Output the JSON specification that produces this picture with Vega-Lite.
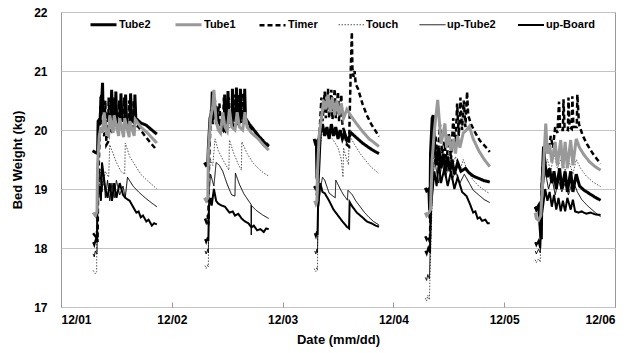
{
"$schema": "https://vega.github.io/schema/vega-lite/v6.json",
"width": 554, "height": 295,
"autosize": {"type": "none"},
"padding": {"left": 61, "top": 12, "right": 29, "bottom": 46},
"background": "white",
"config": {"view": {"stroke": "#999999", "strokeWidth": 1}, "font": "Liberation Sans"},
"data": {"values": [
{"s":"Touch","k":1,"d":1.29,"w":17.62},{"s":"Touch","k":1,"d":1.31,"w":17.56},{"s":"Touch","k":1,"d":1.322,"w":17.6},{"s":"Touch","k":1,"d":1.325,"w":19.15},{"s":"Touch","k":1,"d":1.34,"w":18.95},{"s":"Touch","k":1,"d":1.355,"w":19.35},{"s":"Touch","k":1,"d":1.38,"w":19.05},{"s":"Touch","k":1,"d":1.4,"w":19.3},{"s":"Touch","k":1,"d":1.43,"w":19.2},{"s":"Touch","k":1,"d":1.44,"w":19.75},{"s":"Touch","k":1,"d":1.47,"w":19.6},{"s":"Touch","k":1,"d":1.5,"w":19.45},{"s":"Touch","k":1,"d":1.54,"w":19.3},{"s":"Touch","k":1,"d":1.575,"w":19.25},{"s":"Touch","k":1,"d":1.58,"w":19.78},{"s":"Touch","k":1,"d":1.62,"w":19.55},{"s":"Touch","k":1,"d":1.67,"w":19.4},{"s":"Touch","k":1,"d":1.72,"w":19.25},{"s":"Touch","k":1,"d":1.78,"w":19.14},{"s":"Touch","k":1,"d":1.83,"w":19.06},{"s":"Touch","k":1,"d":1.865,"w":19.0},
{"s":"Touch","k":2,"d":2.3,"w":17.7},{"s":"Touch","k":2,"d":2.31,"w":17.65},{"s":"Touch","k":2,"d":2.325,"w":17.72},{"s":"Touch","k":2,"d":2.33,"w":17.68},{"s":"Touch","k":2,"d":2.335,"w":19.2},{"s":"Touch","k":2,"d":2.35,"w":19.5},{"s":"Touch","k":2,"d":2.37,"w":19.4},{"s":"Touch","k":2,"d":2.39,"w":19.85},{"s":"Touch","k":2,"d":2.42,"w":19.65},{"s":"Touch","k":2,"d":2.46,"w":19.5},{"s":"Touch","k":2,"d":2.515,"w":19.32},{"s":"Touch","k":2,"d":2.52,"w":19.83},{"s":"Touch","k":2,"d":2.56,"w":19.6},{"s":"Touch","k":2,"d":2.6,"w":19.42},{"s":"Touch","k":2,"d":2.628,"w":19.32},{"s":"Touch","k":2,"d":2.632,"w":19.8},{"s":"Touch","k":2,"d":2.68,"w":19.6},{"s":"Touch","k":2,"d":2.73,"w":19.45},{"s":"Touch","k":2,"d":2.78,"w":19.35},{"s":"Touch","k":2,"d":2.83,"w":19.27},{"s":"Touch","k":2,"d":2.875,"w":19.22},
{"s":"Touch","k":3,"d":3.285,"w":17.65},{"s":"Touch","k":3,"d":3.3,"w":17.6},{"s":"Touch","k":3,"d":3.31,"w":17.68},{"s":"Touch","k":3,"d":3.315,"w":17.62},{"s":"Touch","k":3,"d":3.32,"w":19.4},{"s":"Touch","k":3,"d":3.34,"w":19.7},{"s":"Touch","k":3,"d":3.36,"w":20.0},{"s":"Touch","k":3,"d":3.4,"w":19.95},{"s":"Touch","k":3,"d":3.45,"w":19.85},{"s":"Touch","k":3,"d":3.5,"w":19.7},{"s":"Touch","k":3,"d":3.53,"w":19.5},{"s":"Touch","k":3,"d":3.545,"w":19.2},{"s":"Touch","k":3,"d":3.55,"w":19.7},{"s":"Touch","k":3,"d":3.57,"w":19.55},{"s":"Touch","k":3,"d":3.595,"w":19.41},{"s":"Touch","k":3,"d":3.6,"w":19.92},{"s":"Touch","k":3,"d":3.65,"w":19.75},{"s":"Touch","k":3,"d":3.7,"w":19.6},{"s":"Touch","k":3,"d":3.75,"w":19.48},{"s":"Touch","k":3,"d":3.8,"w":19.37},{"s":"Touch","k":3,"d":3.87,"w":19.26},
{"s":"Touch","k":4,"d":4.288,"w":17.15},{"s":"Touch","k":4,"d":4.3,"w":17.1},{"s":"Touch","k":4,"d":4.31,"w":17.2},{"s":"Touch","k":4,"d":4.325,"w":17.12},{"s":"Touch","k":4,"d":4.33,"w":17.5},{"s":"Touch","k":4,"d":4.345,"w":18.5},{"s":"Touch","k":4,"d":4.36,"w":19.3},{"s":"Touch","k":4,"d":4.38,"w":19.6},{"s":"Touch","k":4,"d":4.4,"w":19.4},{"s":"Touch","k":4,"d":4.43,"w":19.7},{"s":"Touch","k":4,"d":4.46,"w":19.4},{"s":"Touch","k":4,"d":4.5,"w":19.6},{"s":"Touch","k":4,"d":4.53,"w":19.35},{"s":"Touch","k":4,"d":4.56,"w":19.55},{"s":"Touch","k":4,"d":4.6,"w":19.3},{"s":"Touch","k":4,"d":4.63,"w":19.5},{"s":"Touch","k":4,"d":4.67,"w":19.3},{"s":"Touch","k":4,"d":4.72,"w":19.15},{"s":"Touch","k":4,"d":4.77,"w":19.05},{"s":"Touch","k":4,"d":4.82,"w":18.98},{"s":"Touch","k":4,"d":4.87,"w":18.92},
{"s":"Touch","k":5,"d":5.28,"w":17.8},{"s":"Touch","k":5,"d":5.29,"w":17.75},{"s":"Touch","k":5,"d":5.31,"w":17.82},{"s":"Touch","k":5,"d":5.325,"w":17.76},{"s":"Touch","k":5,"d":5.34,"w":18.9},{"s":"Touch","k":5,"d":5.36,"w":19.3},{"s":"Touch","k":5,"d":5.39,"w":19.5},{"s":"Touch","k":5,"d":5.42,"w":19.3},{"s":"Touch","k":5,"d":5.45,"w":19.6},{"s":"Touch","k":5,"d":5.48,"w":19.35},{"s":"Touch","k":5,"d":5.52,"w":19.55},{"s":"Touch","k":5,"d":5.55,"w":19.3},{"s":"Touch","k":5,"d":5.58,"w":19.5},{"s":"Touch","k":5,"d":5.62,"w":19.25},{"s":"Touch","k":5,"d":5.65,"w":19.5},{"s":"Touch","k":5,"d":5.69,"w":19.35},{"s":"Touch","k":5,"d":5.74,"w":19.22},{"s":"Touch","k":5,"d":5.8,"w":19.12},{"s":"Touch","k":5,"d":5.87,"w":19.04},

{"s":"up-Tube2","k":1,"d":1.29,"w":17.9},{"s":"up-Tube2","k":1,"d":1.3,"w":17.85},{"s":"up-Tube2","k":1,"d":1.31,"w":17.95},{"s":"up-Tube2","k":1,"d":1.325,"w":17.9},{"s":"up-Tube2","k":1,"d":1.33,"w":18.8},{"s":"up-Tube2","k":1,"d":1.35,"w":19.3},{"s":"up-Tube2","k":1,"d":1.37,"w":18.95},{"s":"up-Tube2","k":1,"d":1.385,"w":19.25},{"s":"up-Tube2","k":1,"d":1.4,"w":18.85},{"s":"up-Tube2","k":1,"d":1.42,"w":19.15},{"s":"up-Tube2","k":1,"d":1.44,"w":18.8},{"s":"up-Tube2","k":1,"d":1.46,"w":19.1},{"s":"up-Tube2","k":1,"d":1.48,"w":18.85},{"s":"up-Tube2","k":1,"d":1.5,"w":19.15},{"s":"up-Tube2","k":1,"d":1.53,"w":18.9},{"s":"up-Tube2","k":1,"d":1.56,"w":19.05},{"s":"up-Tube2","k":1,"d":1.58,"w":18.85},{"s":"up-Tube2","k":1,"d":1.6,"w":19.2},{"s":"up-Tube2","k":1,"d":1.65,"w":19.05},{"s":"up-Tube2","k":1,"d":1.7,"w":18.95},{"s":"up-Tube2","k":1,"d":1.76,"w":18.85},{"s":"up-Tube2","k":1,"d":1.82,"w":18.76},{"s":"up-Tube2","k":1,"d":1.865,"w":18.7},
{"s":"up-Tube2","k":2,"d":2.3,"w":17.95},{"s":"up-Tube2","k":2,"d":2.31,"w":17.9},{"s":"up-Tube2","k":2,"d":2.325,"w":17.98},{"s":"up-Tube2","k":2,"d":2.33,"w":17.92},{"s":"up-Tube2","k":2,"d":2.335,"w":18.9},{"s":"up-Tube2","k":2,"d":2.35,"w":19.25},{"s":"up-Tube2","k":2,"d":2.38,"w":19.05},{"s":"up-Tube2","k":2,"d":2.4,"w":19.45},{"s":"up-Tube2","k":2,"d":2.43,"w":19.4},{"s":"up-Tube2","k":2,"d":2.46,"w":19.3},{"s":"up-Tube2","k":2,"d":2.5,"w":19.08},{"s":"up-Tube2","k":2,"d":2.54,"w":18.9},{"s":"up-Tube2","k":2,"d":2.57,"w":18.88},{"s":"up-Tube2","k":2,"d":2.574,"w":19.27},{"s":"up-Tube2","k":2,"d":2.61,"w":19.08},{"s":"up-Tube2","k":2,"d":2.65,"w":18.92},{"s":"up-Tube2","k":2,"d":2.7,"w":18.78},{"s":"up-Tube2","k":2,"d":2.715,"w":18.74},{"s":"up-Tube2","k":2,"d":2.717,"w":18.22},{"s":"up-Tube2","k":2,"d":2.719,"w":18.72},{"s":"up-Tube2","k":2,"d":2.76,"w":18.64},{"s":"up-Tube2","k":2,"d":2.82,"w":18.56},{"s":"up-Tube2","k":2,"d":2.875,"w":18.5},
{"s":"up-Tube2","k":3,"d":3.29,"w":17.95},{"s":"up-Tube2","k":3,"d":3.3,"w":17.9},{"s":"up-Tube2","k":3,"d":3.31,"w":17.98},{"s":"up-Tube2","k":3,"d":3.315,"w":17.92},{"s":"up-Tube2","k":3,"d":3.32,"w":18.6},{"s":"up-Tube2","k":3,"d":3.34,"w":19.0},{"s":"up-Tube2","k":3,"d":3.36,"w":19.2},{"s":"up-Tube2","k":3,"d":3.38,"w":19.15},{"s":"up-Tube2","k":3,"d":3.42,"w":18.93},{"s":"up-Tube2","k":3,"d":3.475,"w":18.85},{"s":"up-Tube2","k":3,"d":3.48,"w":19.15},{"s":"up-Tube2","k":3,"d":3.52,"w":19.0},{"s":"up-Tube2","k":3,"d":3.55,"w":18.9},{"s":"up-Tube2","k":3,"d":3.585,"w":18.81},{"s":"up-Tube2","k":3,"d":3.59,"w":18.98},{"s":"up-Tube2","k":3,"d":3.63,"w":18.9},{"s":"up-Tube2","k":3,"d":3.66,"w":18.8},{"s":"up-Tube2","k":3,"d":3.7,"w":18.7},{"s":"up-Tube2","k":3,"d":3.74,"w":18.6},{"s":"up-Tube2","k":3,"d":3.78,"w":18.52},{"s":"up-Tube2","k":3,"d":3.82,"w":18.45},{"s":"up-Tube2","k":3,"d":3.87,"w":18.39},
{"s":"up-Tube2","k":4,"d":4.288,"w":17.5},{"s":"up-Tube2","k":4,"d":4.3,"w":17.45},{"s":"up-Tube2","k":4,"d":4.31,"w":17.55},{"s":"up-Tube2","k":4,"d":4.325,"w":17.48},{"s":"up-Tube2","k":4,"d":4.335,"w":18.2},{"s":"up-Tube2","k":4,"d":4.35,"w":18.9},{"s":"up-Tube2","k":4,"d":4.37,"w":19.5},{"s":"up-Tube2","k":4,"d":4.39,"w":19.3},{"s":"up-Tube2","k":4,"d":4.41,"w":19.1},{"s":"up-Tube2","k":4,"d":4.44,"w":19.45},{"s":"up-Tube2","k":4,"d":4.47,"w":19.2},{"s":"up-Tube2","k":4,"d":4.5,"w":19.4},{"s":"up-Tube2","k":4,"d":4.53,"w":19.15},{"s":"up-Tube2","k":4,"d":4.56,"w":19.3},{"s":"up-Tube2","k":4,"d":4.6,"w":19.1},{"s":"up-Tube2","k":4,"d":4.64,"w":19.25},{"s":"up-Tube2","k":4,"d":4.685,"w":19.1},{"s":"up-Tube2","k":4,"d":4.72,"w":18.98},{"s":"up-Tube2","k":4,"d":4.77,"w":18.9},{"s":"up-Tube2","k":4,"d":4.82,"w":18.82},{"s":"up-Tube2","k":4,"d":4.87,"w":18.77},
{"s":"up-Tube2","k":5,"d":5.28,"w":17.95},{"s":"up-Tube2","k":5,"d":5.29,"w":17.9},{"s":"up-Tube2","k":5,"d":5.31,"w":17.98},{"s":"up-Tube2","k":5,"d":5.325,"w":17.92},{"s":"up-Tube2","k":5,"d":5.335,"w":18.6},{"s":"up-Tube2","k":5,"d":5.35,"w":19.0},{"s":"up-Tube2","k":5,"d":5.37,"w":19.3},{"s":"up-Tube2","k":5,"d":5.4,"w":19.0},{"s":"up-Tube2","k":5,"d":5.43,"w":19.2},{"s":"up-Tube2","k":5,"d":5.46,"w":18.9},{"s":"up-Tube2","k":5,"d":5.49,"w":19.15},{"s":"up-Tube2","k":5,"d":5.52,"w":18.95},{"s":"up-Tube2","k":5,"d":5.55,"w":19.1},{"s":"up-Tube2","k":5,"d":5.58,"w":18.9},{"s":"up-Tube2","k":5,"d":5.62,"w":19.15},{"s":"up-Tube2","k":5,"d":5.66,"w":18.95},{"s":"up-Tube2","k":5,"d":5.7,"w":18.82},{"s":"up-Tube2","k":5,"d":5.75,"w":18.72},{"s":"up-Tube2","k":5,"d":5.81,"w":18.62},{"s":"up-Tube2","k":5,"d":5.87,"w":18.53},

{"s":"up-Board","k":1,"d":1.29,"w":18.1},{"s":"up-Board","k":1,"d":1.3,"w":18.05},{"s":"up-Board","k":1,"d":1.315,"w":18.15},{"s":"up-Board","k":1,"d":1.325,"w":18.1},{"s":"up-Board","k":1,"d":1.33,"w":18.95},{"s":"up-Board","k":1,"d":1.345,"w":19.05},{"s":"up-Board","k":1,"d":1.36,"w":18.8},{"s":"up-Board","k":1,"d":1.37,"w":19.45},{"s":"up-Board","k":1,"d":1.38,"w":19.3},{"s":"up-Board","k":1,"d":1.4,"w":19.0},{"s":"up-Board","k":1,"d":1.42,"w":18.85},{"s":"up-Board","k":1,"d":1.44,"w":19.1},{"s":"up-Board","k":1,"d":1.46,"w":18.8},{"s":"up-Board","k":1,"d":1.48,"w":19.1},{"s":"up-Board","k":1,"d":1.5,"w":18.85},{"s":"up-Board","k":1,"d":1.53,"w":19.1},{"s":"up-Board","k":1,"d":1.56,"w":18.9},{"s":"up-Board","k":1,"d":1.58,"w":18.85},{"s":"up-Board","k":1,"d":1.62,"w":18.8},{"s":"up-Board","k":1,"d":1.65,"w":18.7},{"s":"up-Board","k":1,"d":1.68,"w":18.6},{"s":"up-Board","k":1,"d":1.7,"w":18.62},{"s":"up-Board","k":1,"d":1.72,"w":18.52},{"s":"up-Board","k":1,"d":1.74,"w":18.55},{"s":"up-Board","k":1,"d":1.77,"w":18.45},{"s":"up-Board","k":1,"d":1.79,"w":18.48},{"s":"up-Board","k":1,"d":1.82,"w":18.38},{"s":"up-Board","k":1,"d":1.84,"w":18.42},{"s":"up-Board","k":1,"d":1.865,"w":18.4},
{"s":"up-Board","k":2,"d":2.3,"w":18.15},{"s":"up-Board","k":2,"d":2.31,"w":18.1},{"s":"up-Board","k":2,"d":2.325,"w":18.18},{"s":"up-Board","k":2,"d":2.33,"w":18.12},{"s":"up-Board","k":2,"d":2.335,"w":18.7},{"s":"up-Board","k":2,"d":2.35,"w":18.85},{"s":"up-Board","k":2,"d":2.36,"w":18.72},{"s":"up-Board","k":2,"d":2.38,"w":19.0},{"s":"up-Board","k":2,"d":2.4,"w":18.8},{"s":"up-Board","k":2,"d":2.42,"w":18.75},{"s":"up-Board","k":2,"d":2.45,"w":18.72},{"s":"up-Board","k":2,"d":2.48,"w":18.7},{"s":"up-Board","k":2,"d":2.5,"w":18.65},{"s":"up-Board","k":2,"d":2.52,"w":18.6},{"s":"up-Board","k":2,"d":2.55,"w":18.62},{"s":"up-Board","k":2,"d":2.57,"w":18.55},{"s":"up-Board","k":2,"d":2.6,"w":18.58},{"s":"up-Board","k":2,"d":2.63,"w":18.5},{"s":"up-Board","k":2,"d":2.66,"w":18.45},{"s":"up-Board","k":2,"d":2.69,"w":18.42},{"s":"up-Board","k":2,"d":2.72,"w":18.35},{"s":"up-Board","k":2,"d":2.74,"w":18.38},{"s":"up-Board","k":2,"d":2.77,"w":18.3},{"s":"up-Board","k":2,"d":2.8,"w":18.32},{"s":"up-Board","k":2,"d":2.83,"w":18.27},{"s":"up-Board","k":2,"d":2.85,"w":18.33},{"s":"up-Board","k":2,"d":2.875,"w":18.32},
{"s":"up-Board","k":3,"d":3.29,"w":18.25},{"s":"up-Board","k":3,"d":3.3,"w":18.2},{"s":"up-Board","k":3,"d":3.31,"w":18.28},{"s":"up-Board","k":3,"d":3.315,"w":18.22},{"s":"up-Board","k":3,"d":3.32,"w":18.7},{"s":"up-Board","k":3,"d":3.34,"w":19.1},{"s":"up-Board","k":3,"d":3.36,"w":18.95},{"s":"up-Board","k":3,"d":3.38,"w":18.93},{"s":"up-Board","k":3,"d":3.42,"w":18.8},{"s":"up-Board","k":3,"d":3.46,"w":18.65},{"s":"up-Board","k":3,"d":3.5,"w":18.55},{"s":"up-Board","k":3,"d":3.54,"w":18.45},{"s":"up-Board","k":3,"d":3.58,"w":18.36},{"s":"up-Board","k":3,"d":3.6,"w":18.33},{"s":"up-Board","k":3,"d":3.605,"w":18.78},{"s":"up-Board","k":3,"d":3.63,"w":18.7},{"s":"up-Board","k":3,"d":3.67,"w":18.6},{"s":"up-Board","k":3,"d":3.72,"w":18.52},{"s":"up-Board","k":3,"d":3.76,"w":18.45},{"s":"up-Board","k":3,"d":3.8,"w":18.42},{"s":"up-Board","k":3,"d":3.84,"w":18.38},{"s":"up-Board","k":3,"d":3.87,"w":18.36},
{"s":"up-Board","k":4,"d":4.288,"w":17.95},{"s":"up-Board","k":4,"d":4.3,"w":17.9},{"s":"up-Board","k":4,"d":4.315,"w":18.0},{"s":"up-Board","k":4,"d":4.33,"w":17.92},{"s":"up-Board","k":4,"d":4.335,"w":18.6},{"s":"up-Board","k":4,"d":4.35,"w":18.9},{"s":"up-Board","k":4,"d":4.37,"w":19.3},{"s":"up-Board","k":4,"d":4.39,"w":19.05},{"s":"up-Board","k":4,"d":4.41,"w":19.45},{"s":"up-Board","k":4,"d":4.43,"w":19.1},{"s":"up-Board","k":4,"d":4.46,"w":19.35},{"s":"up-Board","k":4,"d":4.49,"w":19.05},{"s":"up-Board","k":4,"d":4.52,"w":19.3},{"s":"up-Board","k":4,"d":4.55,"w":19.0},{"s":"up-Board","k":4,"d":4.58,"w":19.2},{"s":"up-Board","k":4,"d":4.62,"w":18.95},{"s":"up-Board","k":4,"d":4.66,"w":18.88},{"s":"up-Board","k":4,"d":4.69,"w":18.75},{"s":"up-Board","k":4,"d":4.72,"w":18.6},{"s":"up-Board","k":4,"d":4.74,"w":18.62},{"s":"up-Board","k":4,"d":4.76,"w":18.5},{"s":"up-Board","k":4,"d":4.78,"w":18.52},{"s":"up-Board","k":4,"d":4.8,"w":18.46},{"s":"up-Board","k":4,"d":4.83,"w":18.48},{"s":"up-Board","k":4,"d":4.85,"w":18.42},{"s":"up-Board","k":4,"d":4.87,"w":18.42},
{"s":"up-Board","k":5,"d":5.28,"w":18.1},{"s":"up-Board","k":5,"d":5.29,"w":18.05},{"s":"up-Board","k":5,"d":5.31,"w":18.12},{"s":"up-Board","k":5,"d":5.325,"w":18.0},{"s":"up-Board","k":5,"d":5.335,"w":18.5},{"s":"up-Board","k":5,"d":5.35,"w":18.7},{"s":"up-Board","k":5,"d":5.37,"w":19.0},{"s":"up-Board","k":5,"d":5.39,"w":18.8},{"s":"up-Board","k":5,"d":5.41,"w":18.95},{"s":"up-Board","k":5,"d":5.43,"w":18.7},{"s":"up-Board","k":5,"d":5.45,"w":18.9},{"s":"up-Board","k":5,"d":5.47,"w":18.65},{"s":"up-Board","k":5,"d":5.49,"w":18.85},{"s":"up-Board","k":5,"d":5.51,"w":18.62},{"s":"up-Board","k":5,"d":5.53,"w":18.8},{"s":"up-Board","k":5,"d":5.55,"w":18.62},{"s":"up-Board","k":5,"d":5.57,"w":18.85},{"s":"up-Board","k":5,"d":5.6,"w":18.65},{"s":"up-Board","k":5,"d":5.62,"w":18.82},{"s":"up-Board","k":5,"d":5.64,"w":18.62},{"s":"up-Board","k":5,"d":5.67,"w":18.6},{"s":"up-Board","k":5,"d":5.7,"w":18.62},{"s":"up-Board","k":5,"d":5.74,"w":18.58},{"s":"up-Board","k":5,"d":5.78,"w":18.6},{"s":"up-Board","k":5,"d":5.82,"w":18.57},{"s":"up-Board","k":5,"d":5.87,"w":18.56},

{"s":"Timer","k":1,"d":1.29,"w":18.25},{"s":"Timer","k":1,"d":1.31,"w":18.2},{"s":"Timer","k":1,"d":1.325,"w":18.28},{"s":"Timer","k":1,"d":1.33,"w":18.1},{"s":"Timer","k":1,"d":1.335,"w":19.0},{"s":"Timer","k":1,"d":1.345,"w":19.7},{"s":"Timer","k":1,"d":1.355,"w":20.4},{"s":"Timer","k":1,"d":1.365,"w":20.0},{"s":"Timer","k":1,"d":1.39,"w":19.9},{"s":"Timer","k":1,"d":1.4,"w":20.5},{"s":"Timer","k":1,"d":1.41,"w":19.75},{"s":"Timer","k":1,"d":1.425,"w":19.8},{"s":"Timer","k":1,"d":1.43,"w":20.55},{"s":"Timer","k":1,"d":1.44,"w":20.0},{"s":"Timer","k":1,"d":1.47,"w":19.95},{"s":"Timer","k":1,"d":1.475,"w":20.55},{"s":"Timer","k":1,"d":1.485,"w":20.05},{"s":"Timer","k":1,"d":1.52,"w":20.0},{"s":"Timer","k":1,"d":1.525,"w":20.5},{"s":"Timer","k":1,"d":1.535,"w":20.05},{"s":"Timer","k":1,"d":1.565,"w":20.0},{"s":"Timer","k":1,"d":1.57,"w":20.55},{"s":"Timer","k":1,"d":1.58,"w":20.05},{"s":"Timer","k":1,"d":1.61,"w":19.98},{"s":"Timer","k":1,"d":1.615,"w":20.5},{"s":"Timer","k":1,"d":1.625,"w":20.05},{"s":"Timer","k":1,"d":1.65,"w":20.0},{"s":"Timer","k":1,"d":1.655,"w":20.5},{"s":"Timer","k":1,"d":1.665,"w":20.1},{"s":"Timer","k":1,"d":1.7,"w":20.05},{"s":"Timer","k":1,"d":1.75,"w":19.92},{"s":"Timer","k":1,"d":1.8,"w":19.8},{"s":"Timer","k":1,"d":1.865,"w":19.66},
{"s":"Timer","k":2,"d":2.3,"w":18.5},{"s":"Timer","k":2,"d":2.31,"w":18.45},{"s":"Timer","k":2,"d":2.325,"w":18.55},{"s":"Timer","k":2,"d":2.33,"w":18.4},{"s":"Timer","k":2,"d":2.335,"w":19.4},{"s":"Timer","k":2,"d":2.345,"w":19.9},{"s":"Timer","k":2,"d":2.355,"w":20.35},{"s":"Timer","k":2,"d":2.37,"w":20.1},{"s":"Timer","k":2,"d":2.39,"w":20.5},{"s":"Timer","k":2,"d":2.4,"w":20.1},{"s":"Timer","k":2,"d":2.43,"w":20.45},{"s":"Timer","k":2,"d":2.44,"w":20.05},{"s":"Timer","k":2,"d":2.46,"w":20.0},{"s":"Timer","k":2,"d":2.47,"w":20.55},{"s":"Timer","k":2,"d":2.48,"w":20.05},{"s":"Timer","k":2,"d":2.51,"w":20.05},{"s":"Timer","k":2,"d":2.515,"w":20.55},{"s":"Timer","k":2,"d":2.525,"w":20.1},{"s":"Timer","k":2,"d":2.555,"w":20.05},{"s":"Timer","k":2,"d":2.56,"w":20.6},{"s":"Timer","k":2,"d":2.57,"w":20.1},{"s":"Timer","k":2,"d":2.595,"w":20.1},{"s":"Timer","k":2,"d":2.6,"w":20.6},{"s":"Timer","k":2,"d":2.61,"w":20.15},{"s":"Timer","k":2,"d":2.64,"w":20.1},{"s":"Timer","k":2,"d":2.645,"w":20.62},{"s":"Timer","k":2,"d":2.655,"w":20.15},{"s":"Timer","k":2,"d":2.7,"w":20.05},{"s":"Timer","k":2,"d":2.76,"w":19.95},{"s":"Timer","k":2,"d":2.82,"w":19.83},{"s":"Timer","k":2,"d":2.875,"w":19.74},
{"s":"Timer","k":3,"d":3.285,"w":19.05},{"s":"Timer","k":3,"d":3.3,"w":19.0},{"s":"Timer","k":3,"d":3.31,"w":18.9},{"s":"Timer","k":3,"d":3.32,"w":19.7},{"s":"Timer","k":3,"d":3.335,"w":20.0},{"s":"Timer","k":3,"d":3.35,"w":20.55},{"s":"Timer","k":3,"d":3.36,"w":20.15},{"s":"Timer","k":3,"d":3.38,"w":20.65},{"s":"Timer","k":3,"d":3.39,"w":20.2},{"s":"Timer","k":3,"d":3.41,"w":20.7},{"s":"Timer","k":3,"d":3.42,"w":20.2},{"s":"Timer","k":3,"d":3.44,"w":20.68},{"s":"Timer","k":3,"d":3.45,"w":20.18},{"s":"Timer","k":3,"d":3.47,"w":20.7},{"s":"Timer","k":3,"d":3.48,"w":20.2},{"s":"Timer","k":3,"d":3.5,"w":20.65},{"s":"Timer","k":3,"d":3.51,"w":20.15},{"s":"Timer","k":3,"d":3.53,"w":20.6},{"s":"Timer","k":3,"d":3.54,"w":20.1},{"s":"Timer","k":3,"d":3.58,"w":19.75},{"s":"Timer","k":3,"d":3.6,"w":19.72},{"s":"Timer","k":3,"d":3.605,"w":20.2},{"s":"Timer","k":3,"d":3.615,"w":21.0},{"s":"Timer","k":3,"d":3.625,"w":21.66},{"s":"Timer","k":3,"d":3.63,"w":21.05},{"s":"Timer","k":3,"d":3.64,"w":20.9},{"s":"Timer","k":3,"d":3.65,"w":21.0},{"s":"Timer","k":3,"d":3.66,"w":20.78},{"s":"Timer","k":3,"d":3.68,"w":20.7},{"s":"Timer","k":3,"d":3.72,"w":20.45},{"s":"Timer","k":3,"d":3.76,"w":20.25},{"s":"Timer","k":3,"d":3.8,"w":20.1},{"s":"Timer","k":3,"d":3.84,"w":19.98},{"s":"Timer","k":3,"d":3.87,"w":19.89},
{"s":"Timer","k":4,"d":4.288,"w":18.2},{"s":"Timer","k":4,"d":4.3,"w":18.15},{"s":"Timer","k":4,"d":4.315,"w":18.2},{"s":"Timer","k":4,"d":4.33,"w":18.1},{"s":"Timer","k":4,"d":4.34,"w":19.2},{"s":"Timer","k":4,"d":4.36,"w":19.6},{"s":"Timer","k":4,"d":4.38,"w":19.9},{"s":"Timer","k":4,"d":4.4,"w":19.5},{"s":"Timer","k":4,"d":4.42,"w":20.1},{"s":"Timer","k":4,"d":4.44,"w":19.6},{"s":"Timer","k":4,"d":4.46,"w":19.8},{"s":"Timer","k":4,"d":4.48,"w":19.45},{"s":"Timer","k":4,"d":4.5,"w":19.95},{"s":"Timer","k":4,"d":4.52,"w":19.5},{"s":"Timer","k":4,"d":4.54,"w":20.2},{"s":"Timer","k":4,"d":4.56,"w":19.7},{"s":"Timer","k":4,"d":4.575,"w":20.45},{"s":"Timer","k":4,"d":4.59,"w":19.9},{"s":"Timer","k":4,"d":4.605,"w":20.55},{"s":"Timer","k":4,"d":4.62,"w":20.0},{"s":"Timer","k":4,"d":4.635,"w":20.5},{"s":"Timer","k":4,"d":4.65,"w":20.05},{"s":"Timer","k":4,"d":4.665,"w":20.65},{"s":"Timer","k":4,"d":4.675,"w":20.25},{"s":"Timer","k":4,"d":4.7,"w":20.1},{"s":"Timer","k":4,"d":4.74,"w":19.95},{"s":"Timer","k":4,"d":4.78,"w":19.82},{"s":"Timer","k":4,"d":4.83,"w":19.72},{"s":"Timer","k":4,"d":4.87,"w":19.63},
{"s":"Timer","k":5,"d":5.28,"w":18.7},{"s":"Timer","k":5,"d":5.29,"w":18.65},{"s":"Timer","k":5,"d":5.31,"w":18.72},{"s":"Timer","k":5,"d":5.33,"w":18.6},{"s":"Timer","k":5,"d":5.345,"w":19.3},{"s":"Timer","k":5,"d":5.36,"w":19.6},{"s":"Timer","k":5,"d":5.38,"w":19.8},{"s":"Timer","k":5,"d":5.4,"w":19.6},{"s":"Timer","k":5,"d":5.42,"w":19.9},{"s":"Timer","k":5,"d":5.44,"w":19.7},{"s":"Timer","k":5,"d":5.46,"w":20.05},{"s":"Timer","k":5,"d":5.48,"w":19.95},{"s":"Timer","k":5,"d":5.495,"w":20.48},{"s":"Timer","k":5,"d":5.505,"w":20.0},{"s":"Timer","k":5,"d":5.53,"w":20.0},{"s":"Timer","k":5,"d":5.535,"w":20.52},{"s":"Timer","k":5,"d":5.545,"w":20.02},{"s":"Timer","k":5,"d":5.575,"w":20.0},{"s":"Timer","k":5,"d":5.58,"w":20.55},{"s":"Timer","k":5,"d":5.59,"w":20.05},{"s":"Timer","k":5,"d":5.61,"w":20.02},{"s":"Timer","k":5,"d":5.615,"w":20.57},{"s":"Timer","k":5,"d":5.625,"w":20.05},{"s":"Timer","k":5,"d":5.655,"w":20.05},{"s":"Timer","k":5,"d":5.66,"w":20.6},{"s":"Timer","k":5,"d":5.675,"w":20.1},{"s":"Timer","k":5,"d":5.71,"w":19.9},{"s":"Timer","k":5,"d":5.75,"w":19.75},{"s":"Timer","k":5,"d":5.8,"w":19.6},{"s":"Timer","k":5,"d":5.84,"w":19.5},{"s":"Timer","k":5,"d":5.87,"w":19.43},

{"s":"Tube2","k":1,"d":1.285,"w":19.65},{"s":"Tube2","k":1,"d":1.31,"w":19.62},{"s":"Tube2","k":1,"d":1.33,"w":19.6},{"s":"Tube2","k":1,"d":1.335,"w":20.15},{"s":"Tube2","k":1,"d":1.355,"w":20.2},{"s":"Tube2","k":1,"d":1.36,"w":20.55},{"s":"Tube2","k":1,"d":1.37,"w":20.6},{"s":"Tube2","k":1,"d":1.375,"w":20.8},{"s":"Tube2","k":1,"d":1.38,"w":20.3},{"s":"Tube2","k":1,"d":1.4,"w":20.2},{"s":"Tube2","k":1,"d":1.42,"w":20.25},{"s":"Tube2","k":1,"d":1.45,"w":20.1},{"s":"Tube2","k":1,"d":1.457,"w":20.68},{"s":"Tube2","k":1,"d":1.465,"w":20.2},{"s":"Tube2","k":1,"d":1.49,"w":20.12},{"s":"Tube2","k":1,"d":1.495,"w":20.65},{"s":"Tube2","k":1,"d":1.503,"w":20.15},{"s":"Tube2","k":1,"d":1.535,"w":20.1},{"s":"Tube2","k":1,"d":1.541,"w":20.62},{"s":"Tube2","k":1,"d":1.55,"w":20.2},{"s":"Tube2","k":1,"d":1.578,"w":20.12},{"s":"Tube2","k":1,"d":1.583,"w":20.6},{"s":"Tube2","k":1,"d":1.592,"w":20.15},{"s":"Tube2","k":1,"d":1.622,"w":20.1},{"s":"Tube2","k":1,"d":1.628,"w":20.62},{"s":"Tube2","k":1,"d":1.637,"w":20.18},{"s":"Tube2","k":1,"d":1.662,"w":20.12},{"s":"Tube2","k":1,"d":1.667,"w":20.6},{"s":"Tube2","k":1,"d":1.675,"w":20.2},{"s":"Tube2","k":1,"d":1.72,"w":20.12},{"s":"Tube2","k":1,"d":1.77,"w":20.08},{"s":"Tube2","k":1,"d":1.82,"w":20.0},{"s":"Tube2","k":1,"d":1.865,"w":19.93},
{"s":"Tube2","k":2,"d":2.295,"w":19.45},{"s":"Tube2","k":2,"d":2.31,"w":19.4},{"s":"Tube2","k":2,"d":2.325,"w":19.42},{"s":"Tube2","k":2,"d":2.33,"w":19.7},{"s":"Tube2","k":2,"d":2.345,"w":20.2},{"s":"Tube2","k":2,"d":2.36,"w":20.3},{"s":"Tube2","k":2,"d":2.365,"w":20.65},{"s":"Tube2","k":2,"d":2.375,"w":20.3},{"s":"Tube2","k":2,"d":2.39,"w":20.2},{"s":"Tube2","k":2,"d":2.4,"w":20.4},{"s":"Tube2","k":2,"d":2.42,"w":20.15},{"s":"Tube2","k":2,"d":2.45,"w":20.05},{"s":"Tube2","k":2,"d":2.475,"w":20.0},{"s":"Tube2","k":2,"d":2.477,"w":20.6},{"s":"Tube2","k":2,"d":2.485,"w":20.2},{"s":"Tube2","k":2,"d":2.505,"w":20.1},{"s":"Tube2","k":2,"d":2.507,"w":20.66},{"s":"Tube2","k":2,"d":2.515,"w":20.2},{"s":"Tube2","k":2,"d":2.545,"w":20.1},{"s":"Tube2","k":2,"d":2.547,"w":20.7},{"s":"Tube2","k":2,"d":2.555,"w":20.25},{"s":"Tube2","k":2,"d":2.58,"w":20.15},{"s":"Tube2","k":2,"d":2.583,"w":20.72},{"s":"Tube2","k":2,"d":2.59,"w":20.25},{"s":"Tube2","k":2,"d":2.615,"w":20.15},{"s":"Tube2","k":2,"d":2.619,"w":20.7},{"s":"Tube2","k":2,"d":2.627,"w":20.25},{"s":"Tube2","k":2,"d":2.655,"w":20.15},{"s":"Tube2","k":2,"d":2.658,"w":20.7},{"s":"Tube2","k":2,"d":2.665,"w":20.2},{"s":"Tube2","k":2,"d":2.7,"w":20.1},{"s":"Tube2","k":2,"d":2.75,"w":19.98},{"s":"Tube2","k":2,"d":2.8,"w":19.86},{"s":"Tube2","k":2,"d":2.84,"w":19.78},{"s":"Tube2","k":2,"d":2.875,"w":19.72},
{"s":"Tube2","k":3,"d":3.285,"w":19.85},{"s":"Tube2","k":3,"d":3.295,"w":19.78},{"s":"Tube2","k":3,"d":3.305,"w":19.8},{"s":"Tube2","k":3,"d":3.31,"w":19.2},{"s":"Tube2","k":3,"d":3.32,"w":19.1},{"s":"Tube2","k":3,"d":3.33,"w":19.5},{"s":"Tube2","k":3,"d":3.34,"w":19.95},{"s":"Tube2","k":3,"d":3.36,"w":20.1},{"s":"Tube2","k":3,"d":3.38,"w":19.9},{"s":"Tube2","k":3,"d":3.4,"w":20.05},{"s":"Tube2","k":3,"d":3.42,"w":19.85},{"s":"Tube2","k":3,"d":3.44,"w":20.1},{"s":"Tube2","k":3,"d":3.46,"w":19.9},{"s":"Tube2","k":3,"d":3.48,"w":20.05},{"s":"Tube2","k":3,"d":3.5,"w":19.85},{"s":"Tube2","k":3,"d":3.52,"w":20.0},{"s":"Tube2","k":3,"d":3.54,"w":19.85},{"s":"Tube2","k":3,"d":3.56,"w":19.95},{"s":"Tube2","k":3,"d":3.58,"w":19.82},{"s":"Tube2","k":3,"d":3.6,"w":19.88},{"s":"Tube2","k":3,"d":3.62,"w":19.95},{"s":"Tube2","k":3,"d":3.66,"w":19.88},{"s":"Tube2","k":3,"d":3.72,"w":19.78},{"s":"Tube2","k":3,"d":3.78,"w":19.7},{"s":"Tube2","k":3,"d":3.83,"w":19.64},{"s":"Tube2","k":3,"d":3.87,"w":19.6},
{"s":"Tube2","k":4,"d":4.288,"w":19.02},{"s":"Tube2","k":4,"d":4.3,"w":18.97},{"s":"Tube2","k":4,"d":4.32,"w":19.0},{"s":"Tube2","k":4,"d":4.33,"w":18.5},{"s":"Tube2","k":4,"d":4.335,"w":19.6},{"s":"Tube2","k":4,"d":4.35,"w":20.2},{"s":"Tube2","k":4,"d":4.36,"w":20.25},{"s":"Tube2","k":4,"d":4.37,"w":19.8},{"s":"Tube2","k":4,"d":4.39,"w":19.4},{"s":"Tube2","k":4,"d":4.41,"w":19.7},{"s":"Tube2","k":4,"d":4.43,"w":19.35},{"s":"Tube2","k":4,"d":4.45,"w":19.6},{"s":"Tube2","k":4,"d":4.47,"w":19.3},{"s":"Tube2","k":4,"d":4.49,"w":19.55},{"s":"Tube2","k":4,"d":4.51,"w":19.3},{"s":"Tube2","k":4,"d":4.53,"w":19.5},{"s":"Tube2","k":4,"d":4.55,"w":19.25},{"s":"Tube2","k":4,"d":4.58,"w":19.45},{"s":"Tube2","k":4,"d":4.61,"w":19.3},{"s":"Tube2","k":4,"d":4.65,"w":19.35},{"s":"Tube2","k":4,"d":4.68,"w":19.28},{"s":"Tube2","k":4,"d":4.72,"w":19.22},{"s":"Tube2","k":4,"d":4.77,"w":19.18},{"s":"Tube2","k":4,"d":4.82,"w":19.14},{"s":"Tube2","k":4,"d":4.87,"w":19.12},
{"s":"Tube2","k":5,"d":5.28,"w":18.7},{"s":"Tube2","k":5,"d":5.29,"w":18.66},{"s":"Tube2","k":5,"d":5.31,"w":18.72},{"s":"Tube2","k":5,"d":5.33,"w":18.2},{"s":"Tube2","k":5,"d":5.335,"w":18.15},{"s":"Tube2","k":5,"d":5.34,"w":19.0},{"s":"Tube2","k":5,"d":5.355,"w":19.72},{"s":"Tube2","k":5,"d":5.37,"w":19.4},{"s":"Tube2","k":5,"d":5.39,"w":19.2},{"s":"Tube2","k":5,"d":5.41,"w":19.35},{"s":"Tube2","k":5,"d":5.43,"w":19.1},{"s":"Tube2","k":5,"d":5.45,"w":19.3},{"s":"Tube2","k":5,"d":5.47,"w":19.0},{"s":"Tube2","k":5,"d":5.5,"w":19.35},{"s":"Tube2","k":5,"d":5.52,"w":19.0},{"s":"Tube2","k":5,"d":5.55,"w":19.3},{"s":"Tube2","k":5,"d":5.57,"w":18.95},{"s":"Tube2","k":5,"d":5.6,"w":19.3},{"s":"Tube2","k":5,"d":5.62,"w":18.95},{"s":"Tube2","k":5,"d":5.65,"w":19.25},{"s":"Tube2","k":5,"d":5.68,"w":19.05},{"s":"Tube2","k":5,"d":5.72,"w":18.98},{"s":"Tube2","k":5,"d":5.77,"w":18.92},{"s":"Tube2","k":5,"d":5.82,"w":18.86},{"s":"Tube2","k":5,"d":5.87,"w":18.81},

{"s":"Tube1","k":1,"d":1.29,"w":18.6},{"s":"Tube1","k":1,"d":1.31,"w":18.55},{"s":"Tube1","k":1,"d":1.325,"w":18.62},{"s":"Tube1","k":1,"d":1.33,"w":19.4},{"s":"Tube1","k":1,"d":1.345,"w":19.9},{"s":"Tube1","k":1,"d":1.36,"w":20.05},{"s":"Tube1","k":1,"d":1.375,"w":19.95},{"s":"Tube1","k":1,"d":1.39,"w":20.3},{"s":"Tube1","k":1,"d":1.41,"w":19.95},{"s":"Tube1","k":1,"d":1.43,"w":19.9},{"s":"Tube1","k":1,"d":1.44,"w":20.25},{"s":"Tube1","k":1,"d":1.47,"w":19.95},{"s":"Tube1","k":1,"d":1.48,"w":20.25},{"s":"Tube1","k":1,"d":1.52,"w":19.9},{"s":"Tube1","k":1,"d":1.53,"w":20.2},{"s":"Tube1","k":1,"d":1.565,"w":19.88},{"s":"Tube1","k":1,"d":1.575,"w":20.2},{"s":"Tube1","k":1,"d":1.615,"w":19.88},{"s":"Tube1","k":1,"d":1.62,"w":20.15},{"s":"Tube1","k":1,"d":1.66,"w":19.9},{"s":"Tube1","k":1,"d":1.67,"w":20.18},{"s":"Tube1","k":1,"d":1.72,"w":20.05},{"s":"Tube1","k":1,"d":1.78,"w":19.95},{"s":"Tube1","k":1,"d":1.83,"w":19.85},{"s":"Tube1","k":1,"d":1.865,"w":19.78},
{"s":"Tube1","k":2,"d":2.295,"w":18.85},{"s":"Tube1","k":2,"d":2.31,"w":18.8},{"s":"Tube1","k":2,"d":2.325,"w":18.85},{"s":"Tube1","k":2,"d":2.33,"w":19.6},{"s":"Tube1","k":2,"d":2.35,"w":20.2},{"s":"Tube1","k":2,"d":2.37,"w":20.4},{"s":"Tube1","k":2,"d":2.38,"w":20.68},{"s":"Tube1","k":2,"d":2.4,"w":20.15},{"s":"Tube1","k":2,"d":2.42,"w":20.0},{"s":"Tube1","k":2,"d":2.44,"w":19.95},{"s":"Tube1","k":2,"d":2.46,"w":20.3},{"s":"Tube1","k":2,"d":2.48,"w":20.05},{"s":"Tube1","k":2,"d":2.5,"w":19.98},{"s":"Tube1","k":2,"d":2.52,"w":20.35},{"s":"Tube1","k":2,"d":2.54,"w":20.05},{"s":"Tube1","k":2,"d":2.57,"w":20.0},{"s":"Tube1","k":2,"d":2.59,"w":20.3},{"s":"Tube1","k":2,"d":2.61,"w":20.05},{"s":"Tube1","k":2,"d":2.64,"w":20.0},{"s":"Tube1","k":2,"d":2.66,"w":20.3},{"s":"Tube1","k":2,"d":2.68,"w":20.05},{"s":"Tube1","k":2,"d":2.72,"w":19.95},{"s":"Tube1","k":2,"d":2.78,"w":19.85},{"s":"Tube1","k":2,"d":2.83,"w":19.74},{"s":"Tube1","k":2,"d":2.875,"w":19.66},
{"s":"Tube1","k":3,"d":3.29,"w":18.8},{"s":"Tube1","k":3,"d":3.3,"w":18.75},{"s":"Tube1","k":3,"d":3.31,"w":18.8},{"s":"Tube1","k":3,"d":3.315,"w":19.3},{"s":"Tube1","k":3,"d":3.33,"w":19.9},{"s":"Tube1","k":3,"d":3.35,"w":20.2},{"s":"Tube1","k":3,"d":3.37,"w":20.5},{"s":"Tube1","k":3,"d":3.39,"w":20.35},{"s":"Tube1","k":3,"d":3.41,"w":20.6},{"s":"Tube1","k":3,"d":3.43,"w":20.3},{"s":"Tube1","k":3,"d":3.45,"w":20.55},{"s":"Tube1","k":3,"d":3.47,"w":20.25},{"s":"Tube1","k":3,"d":3.49,"w":20.5},{"s":"Tube1","k":3,"d":3.51,"w":20.25},{"s":"Tube1","k":3,"d":3.53,"w":20.45},{"s":"Tube1","k":3,"d":3.55,"w":20.2},{"s":"Tube1","k":3,"d":3.58,"w":20.35},{"s":"Tube1","k":3,"d":3.62,"w":20.23},{"s":"Tube1","k":3,"d":3.67,"w":20.1},{"s":"Tube1","k":3,"d":3.72,"w":19.98},{"s":"Tube1","k":3,"d":3.78,"w":19.85},{"s":"Tube1","k":3,"d":3.83,"w":19.78},{"s":"Tube1","k":3,"d":3.87,"w":19.72},
{"s":"Tube1","k":4,"d":4.288,"w":18.6},{"s":"Tube1","k":4,"d":4.3,"w":18.55},{"s":"Tube1","k":4,"d":4.32,"w":18.6},{"s":"Tube1","k":4,"d":4.335,"w":18.65},{"s":"Tube1","k":4,"d":4.35,"w":19.5},{"s":"Tube1","k":4,"d":4.37,"w":20.0},{"s":"Tube1","k":4,"d":4.4,"w":20.51},{"s":"Tube1","k":4,"d":4.43,"w":19.77},{"s":"Tube1","k":4,"d":4.45,"w":19.95},{"s":"Tube1","k":4,"d":4.465,"w":20.11},{"s":"Tube1","k":4,"d":4.48,"w":19.7},{"s":"Tube1","k":4,"d":4.5,"w":19.9},{"s":"Tube1","k":4,"d":4.52,"w":19.65},{"s":"Tube1","k":4,"d":4.54,"w":19.85},{"s":"Tube1","k":4,"d":4.56,"w":19.6},{"s":"Tube1","k":4,"d":4.58,"w":19.9},{"s":"Tube1","k":4,"d":4.6,"w":19.7},{"s":"Tube1","k":4,"d":4.63,"w":19.95},{"s":"Tube1","k":4,"d":4.66,"w":20.0},{"s":"Tube1","k":4,"d":4.685,"w":20.06},{"s":"Tube1","k":4,"d":4.72,"w":19.85},{"s":"Tube1","k":4,"d":4.77,"w":19.65},{"s":"Tube1","k":4,"d":4.82,"w":19.5},{"s":"Tube1","k":4,"d":4.87,"w":19.38},
{"s":"Tube1","k":5,"d":5.28,"w":18.6},{"s":"Tube1","k":5,"d":5.29,"w":18.5},{"s":"Tube1","k":5,"d":5.31,"w":18.47},{"s":"Tube1","k":5,"d":5.33,"w":18.55},{"s":"Tube1","k":5,"d":5.35,"w":19.2},{"s":"Tube1","k":5,"d":5.375,"w":20.11},{"s":"Tube1","k":5,"d":5.39,"w":19.6},{"s":"Tube1","k":5,"d":5.41,"w":19.75},{"s":"Tube1","k":5,"d":5.43,"w":19.45},{"s":"Tube1","k":5,"d":5.46,"w":19.8},{"s":"Tube1","k":5,"d":5.48,"w":19.4},{"s":"Tube1","k":5,"d":5.51,"w":19.83},{"s":"Tube1","k":5,"d":5.53,"w":19.35},{"s":"Tube1","k":5,"d":5.55,"w":19.8},{"s":"Tube1","k":5,"d":5.57,"w":19.35},{"s":"Tube1","k":5,"d":5.6,"w":19.83},{"s":"Tube1","k":5,"d":5.62,"w":19.4},{"s":"Tube1","k":5,"d":5.65,"w":19.85},{"s":"Tube1","k":5,"d":5.68,"w":19.7},{"s":"Tube1","k":5,"d":5.72,"w":19.58},{"s":"Tube1","k":5,"d":5.77,"w":19.46},{"s":"Tube1","k":5,"d":5.82,"w":19.38},{"s":"Tube1","k":5,"d":5.87,"w":19.32}
]},
"mark": {"type": "line", "strokeJoin": "miter", "strokeCap": "butt"},
"encoding": {
  "x": {"field": "d", "type": "quantitative", "scale": {"domain": [1, 6], "nice": false, "zero": false},
    "axis": {"values": [1, 2, 3, 4, 5, 6], "labelExpr": "'12/0' + datum.value", "title": "Date (mm/dd)", "grid": false, "domain": false,
      "tickSize": -5, "tickColor": "#999999", "labelFont": "Liberation Sans", "labelFontWeight": "bold", "labelFontSize": 12, "labelColor": "black",
      "labelPadding": 12, "titleFont": "Liberation Sans", "titleFontSize": 13, "titleFontWeight": "bold", "titleColor": "black", "titlePadding": 8}},
  "y": {"field": "w", "type": "quantitative", "scale": {"domain": [17, 22], "nice": false, "zero": false},
    "axis": {"values": [17, 18, 19, 20, 21, 22], "title": "Bed Weight (kg)", "grid": true, "gridColor": "#c4c4c4", "domain": false, "ticks": false,
      "labelFont": "Liberation Sans", "labelFontWeight": "bold", "labelFontSize": 12, "labelColor": "black", "labelPadding": 14,
      "titleFont": "Liberation Sans", "titleFontSize": 13, "titleFontWeight": "bold", "titleColor": "black", "titlePadding": 9}},
  "color": {"field": "s", "type": "nominal",
    "scale": {"domain": ["Tube2", "Tube1", "Timer", "Touch", "up-Tube2", "up-Board"], "range": ["#000000", "#999999", "#000000", "#555555", "#000000", "#000000"]},
    "legend": {"title": null, "orient": "none", "legendX": 28, "legendY": -2, "direction": "horizontal", "symbolType": "stroke", "symbolSize": 676,
      "labelFont": "Liberation Sans", "labelFontWeight": "bold", "labelFontSize": 11, "labelColor": "black", "labelOffset": 1, "columnPadding": 18, "padding": 0}},
  "strokeDash": {"field": "s", "type": "nominal",
    "scale": {"domain": ["Tube2", "Tube1", "Timer", "Touch", "up-Tube2", "up-Board"], "range": [[1, 0], [1, 0], [5, 3], [1.5, 1.5], [1, 0], [1, 0]]}},
  "strokeWidth": {"field": "s", "type": "nominal",
    "scale": {"type": "ordinal", "domain": ["Tube2", "Tube1", "Timer", "Touch", "up-Tube2", "up-Board"], "range": [3, 3, 2.5, 1, 1, 2]}},
  "detail": {"field": "k"}
}
}
